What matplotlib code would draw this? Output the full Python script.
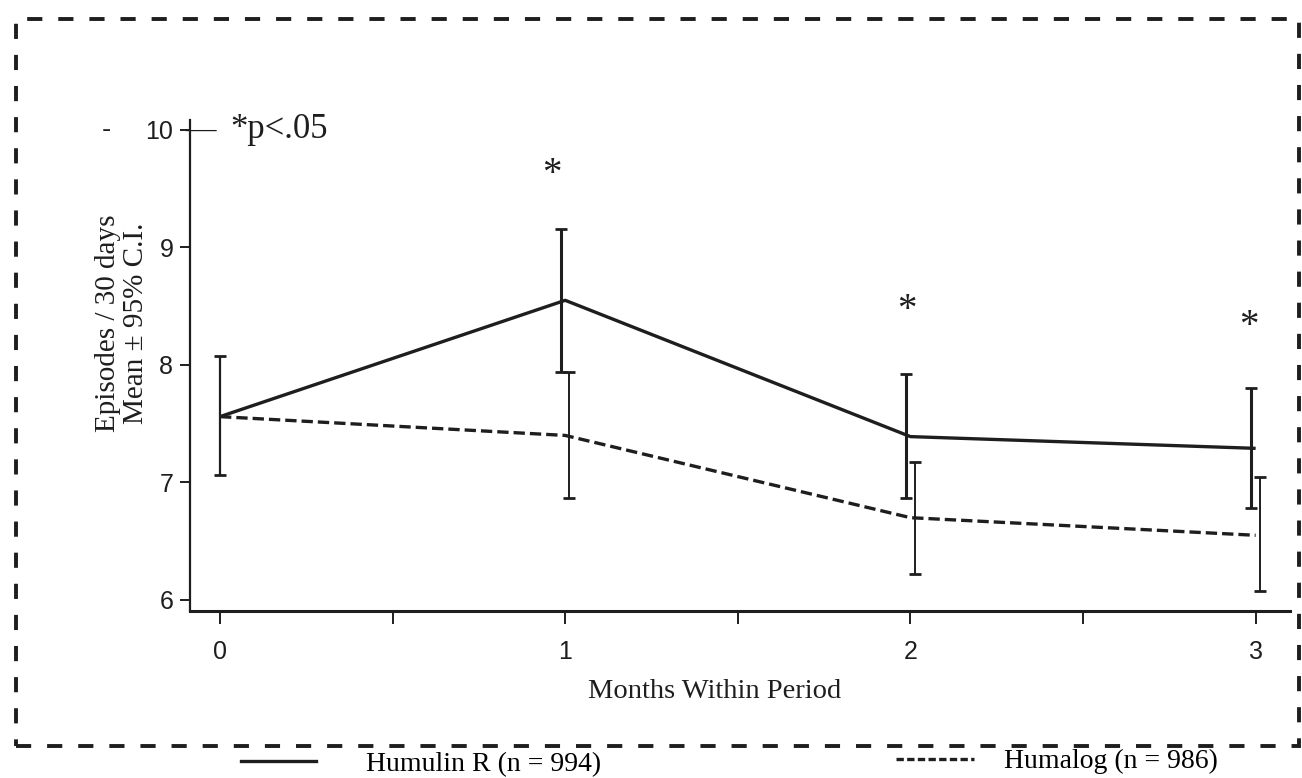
import matplotlib.pyplot as plt
import numpy as np
from matplotlib.patches import Rectangle
from matplotlib.lines import Line2D

plt.rcParams["font.family"] = ["Liberation Serif", "DejaVu Serif"]

months = [0, 1, 2, 3]
month_ticks = ["0", "1", "2", "3"]

# Humulin R (solid)
humulin_mean = [7.56, 8.55, 7.39, 7.29]
humulin_lo = [7.06, 7.94, 6.87, 6.78]
humulin_hi = [8.08, 9.16, 7.92, 7.80]

# Humalog (dashed), no CI drawn at month 0
humalog_mean = [7.56, 7.40, 6.70, 6.55]
humalog_lo = [np.nan, 6.87, 6.22, 6.08]
humalog_hi = [np.nan, 7.94, 7.17, 7.05]

# significance markers
sig_x = [0.96, 1.99, 2.98]
sig_y = [9.62, 8.46, 8.33]

ink = "#1e1e1e"

fig = plt.figure(figsize=(13.02, 7.78), dpi=100)
ax = fig.add_axes([0.1459, 0.2147, 0.845, 0.6311])

x = np.array(months, dtype=float)
off = 0.012

ax.plot(x, humulin_mean, color=ink, lw=2.4, solid_capstyle="butt")
ax.plot(x, humalog_mean, color=ink, lw=2.4, linestyle=(0, (3.4, 1.5)))

hm = np.array(humulin_mean)
ax.errorbar(x[1:] - off, hm[1:],
            yerr=[hm[1:] - np.array(humulin_lo[1:]), np.array(humulin_hi[1:]) - hm[1:]],
            fmt="none", ecolor=ink, elinewidth=2.2, capsize=4, capthick=2)
ax.errorbar(x[:1], hm[:1],
            yerr=[hm[:1] - np.array(humulin_lo[:1]), np.array(humulin_hi[:1]) - hm[:1]],
            fmt="none", ecolor=ink, elinewidth=1.6, capsize=4, capthick=2)
ga = np.array(humalog_mean)
ax.errorbar(x + off, ga,
            yerr=[ga - np.array(humalog_lo), np.array(humalog_hi) - ga],
            fmt="none", ecolor=ink, elinewidth=1.4, capsize=4, capthick=2)

for sx, sy in zip(sig_x, sig_y):
    ax.text(sx, sy, "*", ha="center", va="center", fontsize=28, color=ink)

ax.set_xlim(-0.087, 3.1)
ax.set_ylim(5.906, 10.085)
ax.spines["top"].set_visible(False)
ax.spines["right"].set_visible(False)
ax.spines["left"].set_linewidth(1.6)
ax.spines["bottom"].set_linewidth(2.2)
ax.spines["left"].set_color(ink)
ax.spines["bottom"].set_color(ink)

ax.set_xticks(months)
ax.set_xticklabels(month_ticks)
ax.set_xticks([0.5, 1.5, 2.5], minor=True)
ax.set_yticks([6, 7, 8, 9, 10])
ax.tick_params(axis="x", which="both", direction="out", length=9, width=1.4,
               pad=12, labelsize=18, colors=ink)
ax.tick_params(axis="y", direction="out", length=7, width=1.4, pad=5,
               labelsize=18, colors=ink)
for lab in ax.get_xticklabels() + ax.get_yticklabels():
    lab.set_family("Liberation Sans")

ax.text(-0.10, 10.0, "—", ha="left", va="center", fontsize=22, color=ink)
ax.text(0.03, 10.0, "*p<.05", ha="left", va="center", fontsize=25, color=ink)
ax.text(-0.33, 10.0, "-", ha="center", va="center", fontsize=20, color=ink,
        family="Liberation Sans")

ax.set_xlabel("Months Within Period", fontsize=20.5, color=ink)
ax.xaxis.set_label_coords(0.477, -0.139)
ax.set_ylabel("Episodes / 30 days\nMean ± 95% C.I.", fontsize=21, color=ink,
              linespacing=1.1)
ax.yaxis.set_label_coords(-0.037, 0.585)

# dashed frame
fig.patches.append(Rectangle((0.0125, 0.041), 0.9855, 0.935, transform=fig.transFigure,
                             fill=False, edgecolor=ink, lw=2.8,
                             linestyle=(0, (3.9, 4.1))))

h1 = Line2D([], [], color=ink, lw=2.4)
h2 = Line2D([], [], color=ink, lw=2.4, linestyle=(0, (2.2, 1.0)))
fig.legend(handles=[h1], labels=["Humulin R (n = 994)"], loc="center left",
           bbox_to_anchor=(0.185, 0.018), frameon=False, fontsize=20,
           handlelength=2.7, handletextpad=1.8, borderpad=0, borderaxespad=0)
fig.legend(handles=[h2], labels=["Humalog (n = 986)"], loc="center left",
           bbox_to_anchor=(0.688, 0.021), frameon=False, fontsize=20,
           handlelength=2.8, handletextpad=1.1, borderpad=0, borderaxespad=0)

fig.savefig("out.png", dpi=100)
